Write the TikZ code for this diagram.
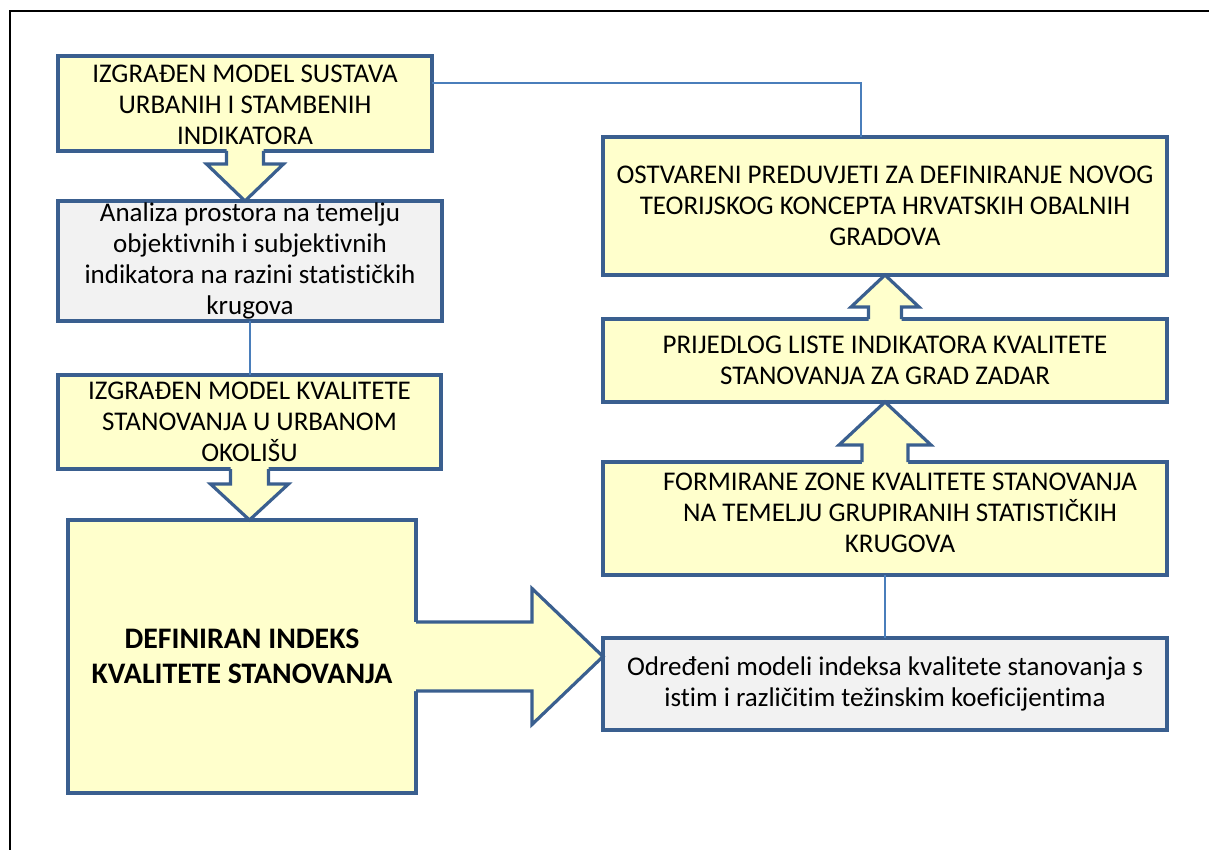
\documentclass[tikz,border=0pt]{standalone}
\usepackage{fontspec}
\setmainfont{Carlito}[Ligatures=NoCommon]
\usetikzlibrary{calc}
\definecolor{yfill}{HTML}{FFFFCC}
\definecolor{gfill}{HTML}{F2F2F2}
\definecolor{bord}{HTML}{3A5F8F}
\definecolor{connc}{HTML}{4A7EBB}
\begin{document}
\begin{tikzpicture}[x=1pt,y=-1pt,
  box/.style={draw=bord, line width=3.2pt, anchor=north west, inner sep=0pt, outer sep=0pt},
  ybox/.style={box, fill=yfill},
  gbox/.style={box, fill=gfill},
  txt/.style={align=center, inner sep=0pt, font=\fontsize{27}{31}\selectfont},
  boldtxt/.style={align=center, inner sep=0pt, font=\fontsize{29.8}{35}\selectfont\bfseries},
  barrow/.style={draw=bord, line width=3.2pt, line join=miter},
  connline/.style={draw=connc, line width=2.4pt}]
\useasboundingbox (0,0) rectangle (1209,850);
% outer frame
\draw[black, line width=1.8pt] (10,850) -- (10,11) -- (1209,11);

% boxes
\node[ybox, minimum width=374pt, minimum height=95pt] (b1) at (58,56) {};
\node[gbox, minimum width=384pt, minimum height=120pt] (b2) at (58,201) {};
\node[ybox, minimum width=383pt, minimum height=94pt] (b3) at (58,375) {};
\node[ybox, minimum width=348pt, minimum height=273pt] (b4) at (68,520) {};
\node[ybox, minimum width=564pt, minimum height=138pt] (b5) at (603,137) {};
\node[ybox, minimum width=564pt, minimum height=83pt] (b6) at (603,319) {};
\node[ybox, minimum width=564pt, minimum height=113pt] (b7) at (603,462) {};
\node[gbox, minimum width=564pt, minimum height=92pt] (b8) at (603,638) {};

% connectors
\draw[connline] ($(b1.north east)+(0,27)$) -| ($(b5.north)+(-24,0)$);
\draw[connline] (b2.south) -- (b2.south |- b3.north);
\draw[connline] (b7.south) -- (b8.north);

% block arrow b1 -> b2
\fill[yfill] ($(b1.south)+(-18.5,-1.8)$) -- ($(b1.south)+(-18.5,13)$) -- ($(b1.south)+(-38.5,13)$) -- (b1.south |- b2.north) -- ($(b1.south)+(38.5,13)$) -- ($(b1.south)+(18.5,13)$) -- ($(b1.south)+(18.5,-1.8)$) -- cycle;
\draw[barrow] ($(b1.south)+(-18.5,0)$) -- ($(b1.south)+(-18.5,13)$) -- ($(b1.south)+(-38.5,13)$) -- (b1.south |- b2.north) -- ($(b1.south)+(38.5,13)$) -- ($(b1.south)+(18.5,13)$) -- ($(b1.south)+(18.5,0)$);

% block arrow b3 -> b4
\fill[yfill] ($(b3.south)+(-19,-1.8)$) -- ($(b3.south)+(-19,15)$) -- ($(b3.south)+(-39,15)$) -- (b3.south |- b4.north) -- ($(b3.south)+(39,15)$) -- ($(b3.south)+(19,15)$) -- ($(b3.south)+(19,-1.8)$) -- cycle;
\draw[barrow] ($(b3.south)+(-19,0)$) -- ($(b3.south)+(-19,15)$) -- ($(b3.south)+(-39,15)$) -- (b3.south |- b4.north) -- ($(b3.south)+(39,15)$) -- ($(b3.south)+(19,15)$) -- ($(b3.south)+(19,0)$);

% block arrow b4 -> b8
\fill[yfill] ($(b4.east)+(-1.8,-34.5)$) -- ($(b4.east)+(116,-34.5)$) -- ($(b4.east)+(116,-68)$) -- (b4.east -| b8.west) -- ($(b4.east)+(116,68)$) -- ($(b4.east)+(116,34.5)$) -- ($(b4.east)+(-1.8,34.5)$) -- cycle;
\draw[barrow] ($(b4.east)+(0,-34.5)$) -- ($(b4.east)+(116,-34.5)$) -- ($(b4.east)+(116,-68)$) -- (b4.east -| b8.west) -- ($(b4.east)+(116,68)$) -- ($(b4.east)+(116,34.5)$) -- ($(b4.east)+(0,34.5)$);

% block arrow b7 -> b6
\fill[yfill] ($(b7.north)+(-23,1.8)$) -- ($(b7.north)+(-23,-17)$) -- ($(b7.north)+(-46,-17)$) -- (b7.north |- b6.south) -- ($(b7.north)+(46,-17)$) -- ($(b7.north)+(23,-17)$) -- ($(b7.north)+(23,1.8)$) -- cycle;
\draw[barrow] ($(b7.north)+(-23,0)$) -- ($(b7.north)+(-23,-17)$) -- ($(b7.north)+(-46,-17)$) -- (b7.north |- b6.south) -- ($(b7.north)+(46,-17)$) -- ($(b7.north)+(23,-17)$) -- ($(b7.north)+(23,0)$);

% block arrow b6 -> b5
\fill[yfill] ($(b6.north)+(-16.5,1.8)$) -- ($(b6.north)+(-16.5,-12)$) -- ($(b6.north)+(-34,-12)$) -- (b6.north |- b5.south) -- ($(b6.north)+(34,-12)$) -- ($(b6.north)+(16.5,-12)$) -- ($(b6.north)+(16.5,1.8)$) -- cycle;
\draw[barrow] ($(b6.north)+(-16.5,0)$) -- ($(b6.north)+(-16.5,-12)$) -- ($(b6.north)+(-34,-12)$) -- (b6.north |- b5.south) -- ($(b6.north)+(34,-12)$) -- ($(b6.north)+(16.5,-12)$) -- ($(b6.north)+(16.5,0)$);

% texts
\node[txt] (t1) at ($(b1.center)+(0,1)$) {IZGRAĐEN MODEL SUSTAVA\\URBANIH I STAMBENIH\\INDIKATORA};
\node[txt] (t2) at (b2.center) {Analiza prostora na temelju\\objektivnih i subjektivnih\\indikatora na razini statističkih\\krugova};
\node[txt] (t3) at (b3.center) {IZGRAĐEN MODEL KVALITETE\\STANOVANJA U URBANOM\\OKOLIŠU};
\node[boldtxt] (t4) at (b4.center) {DEFINIRAN INDEKS\\KVALITETE STANOVANJA};
\node[txt] (t5) at (b5.center) {OSTVARENI PREDUVJETI ZA DEFINIRANJE NOVOG\\TEORIJSKOG KONCEPTA HRVATSKIH OBALNIH\\GRADOVA};
\node[txt] (t6) at (b6.center) {PRIJEDLOG LISTE INDIKATORA KVALITETE\\STANOVANJA ZA GRAD ZADAR};
\node[txt] (t7) at ($(b7.center)+(15,-6)$) {FORMIRANE ZONE KVALITETE STANOVANJA\\NA TEMELJU GRUPIRANIH STATISTIČKIH\\KRUGOVA};
\node[txt] (t8) at (b8.center) {Određeni modeli indeksa kvalitete stanovanja s\\istim i različitim težinskim koeficijentima};
\end{tikzpicture}
\end{document}
